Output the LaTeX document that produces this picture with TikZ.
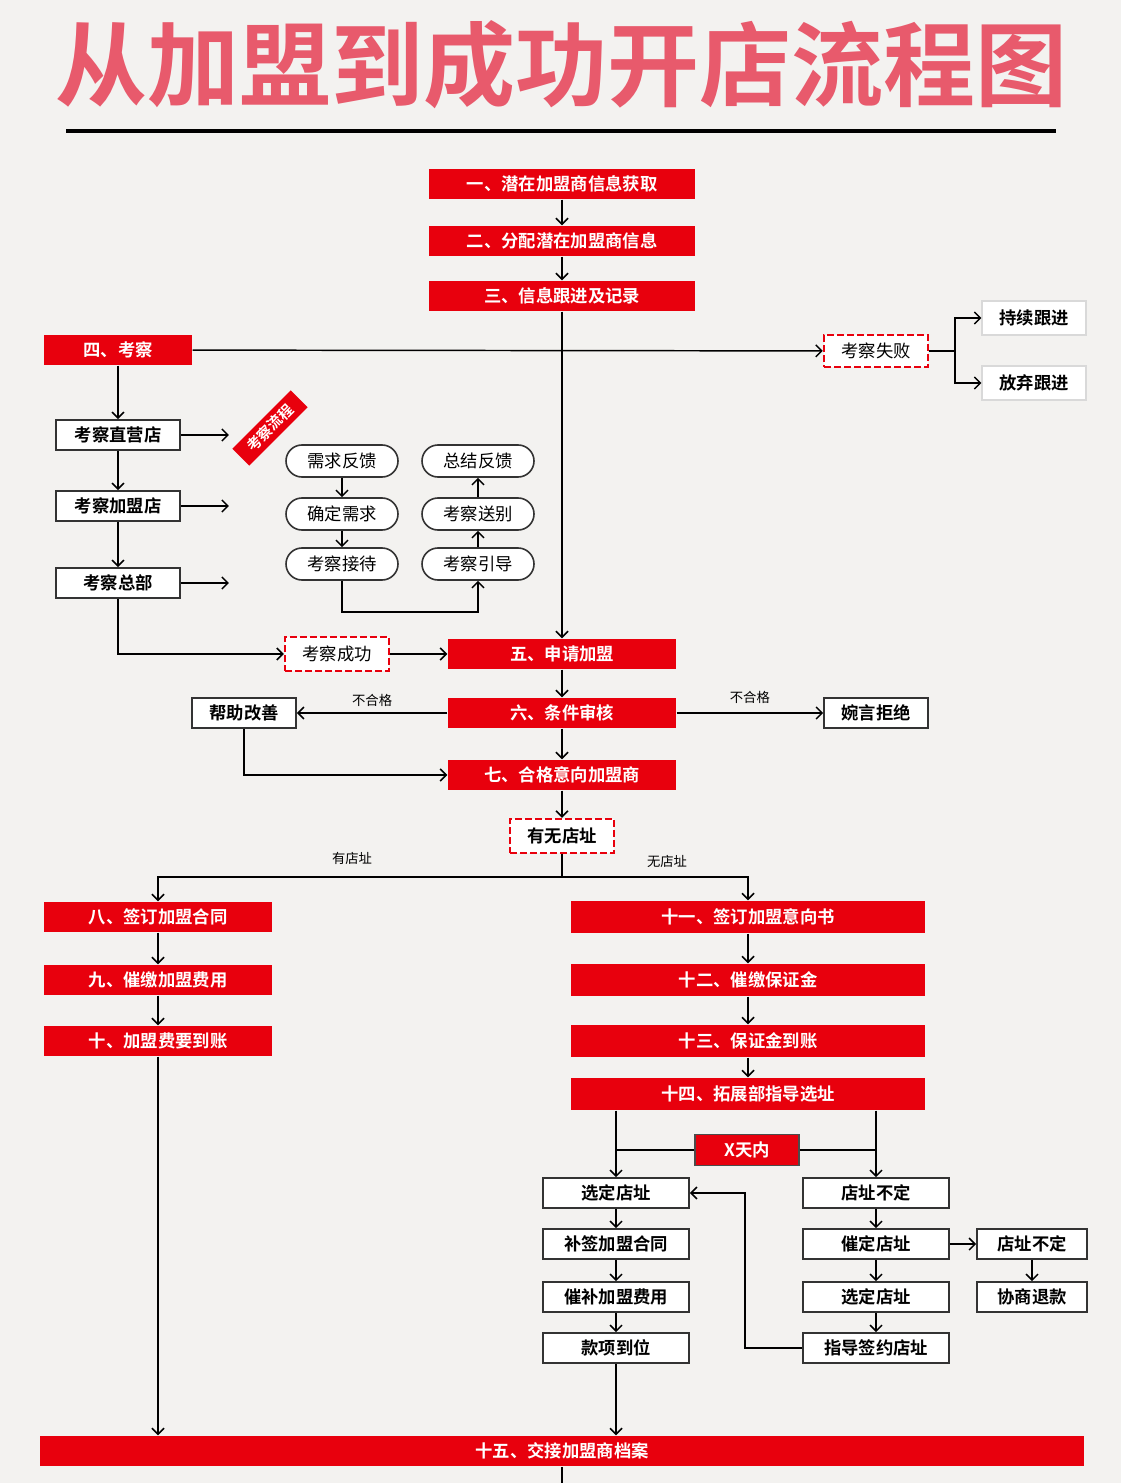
\documentclass[tikz,border=0pt]{standalone}
\usepackage{fontspec}
\newfontfamily\cjk{Noto Sans CJK SC}
\newfontfamily\cjkb{Noto Sans CJK SC Bold}
\usetikzlibrary{arrows.meta}
\definecolor{bg}{HTML}{F3F2F0}
\definecolor{rd}{HTML}{E8000D}
\definecolor{pk}{HTML}{E85A6C}
\begin{document}
\begin{tikzpicture}[x=0.75pt,y=-0.75pt,
  >={Straight Barb[length=4.5pt,width=9pt]},
  every path/.style={line width=1.1pt},
  base/.style={inner sep=0pt,font=\cjkb\fontsize{13}{15}\selectfont},
  red/.style={base,fill=rd,text=white},
  wb/.style={base,draw=black!80,fill=white,line width=1.4pt},
  gb/.style={base,draw=black!15,fill=white,line width=0.8pt},
  dsh/.style={base,draw=rd,fill=white,dash pattern=on 5pt off 2.5pt,line width=1.8pt,font=\cjk\fontsize{13}{15}\selectfont},
  pill/.style={base,draw=black!80,fill=white,rounded corners=12pt,line width=1.2pt,minimum width=84pt,minimum height=24pt,font=\cjk\fontsize{13}{15}\selectfont},
  lab/.style={font=\cjk\fontsize{10}{12}\selectfont}]
\newcommand\bx[7]{\node[#6,minimum width=#4*0.75pt,minimum height=#5*0.75pt] (#1) at (#2,#3) {#7};}
\fill[bg] (0,0) rectangle (1121,1483);
\useasboundingbox (0,0) rectangle (1121,1483);
\node[text=pk,font=\cjkb\fontsize{69}{74}\selectfont] (title) at (561,65) {从加盟到成功开店流程图};
\draw[line width=2.5pt] (66,131) coordinate (l1) -- (1056,131) coordinate (l2);
\bx{t1}{562}{184}{266}{30}{red}{一、潜在加盟商信息获取}
\bx{t2}{562}{241}{266}{30}{red}{二、分配潜在加盟商信息}
\bx{t3}{562}{296}{266}{30}{red}{三、信息跟进及记录}
\bx{t4}{118}{350}{148}{30}{red}{四、考察}
\bx{fail}{876}{351}{104}{32}{dsh}{考察失败}
\bx{c1}{1034}{318}{104}{34}{gb}{持续跟进}
\bx{c2}{1034}{383}{104}{34}{gb}{放弃跟进}
\bx{zy}{118}{435}{124}{30}{wb}{考察直营店}
\bx{jm}{118}{506}{124}{30}{wb}{考察加盟店}
\bx{zb}{118}{583}{124}{30}{wb}{考察总部}
\node[red,rotate=45,minimum width=62pt,minimum height=18pt,font=\cjkb\fontsize{11}{13}\selectfont] (lc) at (270,428) {考察流程};
\node[pill] (p1) at (342,461) {需求反馈};
\node[pill] (p2) at (342,514) {确定需求};
\node[pill] (p3) at (342,564) {考察接待};
\node[pill] (q1) at (478,461) {总结反馈};
\node[pill] (q2) at (478,514) {考察送别};
\node[pill] (q3) at (478,564) {考察引导};
\bx{succ}{337}{654}{104}{34}{dsh}{考察成功}
\bx{s5}{562}{654}{228}{30}{red}{五、申请加盟}
\bx{s6}{562}{713}{228}{30}{red}{六、条件审核}
\bx{help}{244}{713}{104}{30}{wb}{帮助改善}
\bx{ref}{876}{713}{104}{30}{wb}{婉言拒绝}
\bx{s7}{562}{775}{228}{30}{red}{七、合格意向加盟商}
\bx{addr}{562}{836}{104}{34}{dsh}{\cjkb 有无店址}
\bx{s8}{158}{917}{228}{30}{red}{八、签订加盟合同}
\bx{s9}{158}{980}{228}{30}{red}{九、催缴加盟费用}
\bx{s10}{158}{1041}{228}{30}{red}{十、加盟费要到账}
\bx{s11}{748}{917}{354}{32}{red}{十一、签订加盟意向书}
\bx{s12}{748}{980}{354}{32}{red}{十二、催缴保证金}
\bx{s13}{748}{1041}{354}{32}{red}{十三、保证金到账}
\bx{s14}{748}{1094}{354}{32}{red}{十四、拓展部指导选址}
\node[red,draw=black!70,line width=1pt,minimum width=78pt,minimum height=23pt] (xd) at (747,1150) {X天内};
\bx{a1}{616}{1193}{146}{30}{wb}{选定店址}
\bx{a2}{616}{1244}{146}{30}{wb}{补签加盟合同}
\bx{a3}{616}{1297}{146}{30}{wb}{催补加盟费用}
\bx{a4}{616}{1348}{146}{30}{wb}{款项到位}
\bx{b1}{876}{1193}{146}{30}{wb}{店址不定}
\bx{b2}{876}{1244}{146}{30}{wb}{催定店址}
\bx{b3}{876}{1297}{146}{30}{wb}{选定店址}
\bx{b4}{876}{1348}{146}{30}{wb}{指导签约店址}
\bx{c3}{1032}{1244}{110}{30}{wb}{店址不定}
\bx{c4}{1032}{1297}{110}{30}{wb}{协商退款}
\bx{s15}{562}{1451}{1044}{30}{red}{十五、交接加盟商档案}
% edges
\draw[->] (t1) -- (t2);
\draw[->] (t2) -- (t3);
\draw[->] (t3) -- (s5);
\draw[->] (t4) -- (fail);
\draw (fail.east) -- (955,351) coordinate (fk);
\draw[->] (fk) |- (c1.west);
\draw[->] (fk) |- (c2.west);
\draw[->] (t4) -- (zy);
\draw[->] (zy) -- (jm);
\draw[->] (jm) -- (zb);
\draw[->] (zy.east) -- +(48,0) coordinate (e1);
\draw[->] (jm.east) -- +(48,0) coordinate (e2);
\draw[->] (zb.east) -- +(48,0) coordinate (e3);
\draw[->] (zb.south) |- (succ.west);
\draw[->] (succ) -- (s5);
\draw[->] (p1) -- (p2);
\draw[->] (p2) -- (p3);
\draw[->] (p3.south) -- (342,612) coordinate (pk1) -| (q3.south);
\draw[->] (q3) -- (q2);
\draw[->] (q2) -- (q1);
\draw[->] (s5) -- (s6);
\draw[->] (s6) -- node[lab,above=1pt]{不合格} (help);
\draw[->] (s6) -- node[lab,above=3pt]{不合格} (ref);
\draw[->] (s6) -- (s7);
\draw[->] (help.south) |- (s7.west);
\draw[->] (s7) -- (addr);
\draw (addr.south) -- (562,877) coordinate (ak);
\draw[->] (ak) -| (s8.north);
\draw[->] (ak) -| (s11.north);
\node[lab] (ly) at (352,858) {有店址};
\node[lab] (ln) at (667,861) {无店址};
\draw[->] (s8) -- (s9);
\draw[->] (s9) -- (s10);
\draw[->] (s10.south) -- (s15.north -| s10.south);
\draw[->] (s11) -- (s12);
\draw[->] (s12) -- (s13);
\draw[->] (s13) -- (s14);
\draw[->] (s14.south -| a1.north) -- (a1.north);
\draw[->] (s14.south -| b1.north) -- (b1.north);
\draw (xd.west) -- (xd.west -| a1.north);
\draw (xd.east) -- (xd.east -| b1.north);
\draw[->] (a1) -- (a2);
\draw[->] (a2) -- (a3);
\draw[->] (a3) -- (a4);
\draw[->] (a4) -- (s15.north -| a4.south);
\draw[->] (b1) -- (b2);
\draw[->] (b2) -- (b3);
\draw[->] (b3) -- (b4);
\draw[->] (b4.west) -- (745,1348) coordinate (bk) |- (a1.east);
\draw[->] (b2) -- (c3);
\draw[->] (c3) -- (c4);
\draw (s15.south) -- (562,1483) coordinate (bot);
\end{tikzpicture}
\end{document}
